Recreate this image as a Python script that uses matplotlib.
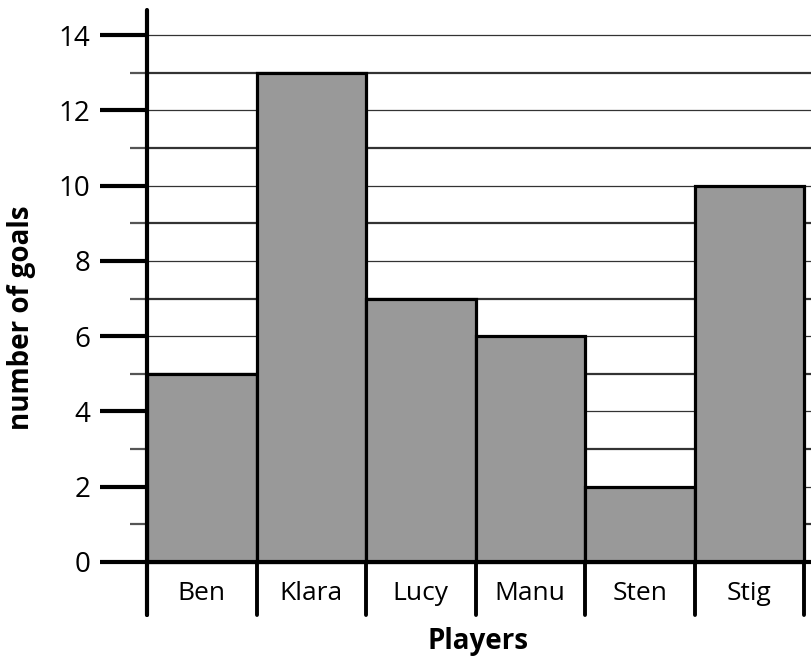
import matplotlib
matplotlib.use("Agg")
import matplotlib.pyplot as plt
import numpy as np

players = ["Ben", "Klara", "Lucy", "Manu", "Sten", "Stig"]
goals = [5, 13, 7, 6, 2, 10]
major_ticks = [0, 2, 4, 6, 8, 10, 12, 14]
minor_ticks = [1, 3, 5, 7, 9, 11, 13]

plt.rcParams['font.family'] = ['Open Sans', 'DejaVu Sans']

fig = plt.figure(figsize=(8.11, 6.6), dpi=100)
W, H = 811, 660
x0, x1 = 147, 811
y_top, y_bot = 10, 615
ax = fig.add_axes([x0 / W, (H - y_bot) / H, (x1 - x0) / W, (y_bot - y_top) / H])

unit = (562 - 35) / 14.0
ymin = -(y_bot - 562) / unit
ymax = (562 - y_top) / unit
bw_px = 109.5
xmax = -0.5 + (x1 - x0) / bw_px
ax.set_xlim(-0.5, xmax)
ax.set_ylim(ymin, ymax)

# gridlines
for v in major_ticks:
    if v > 0:
        ax.axhline(v, color="#333333", lw=0.9, zorder=1)
for v in minor_ticks:
    ax.axhline(v, color="#333333", lw=1.6, zorder=1)

x = np.arange(len(players))
ax.bar(x, goals, width=1.0, color="#999999", edgecolor="black", linewidth=2.3, zorder=3)

# baseline
ax.axhline(0, color="black", lw=3, zorder=4)

# category separators
for i in range(len(players) + 1):
    ax.plot([i - 0.5, i - 0.5], [0, ymin], color="black", lw=2.8,
            solid_capstyle="round", zorder=4, clip_on=False)

for s in ["top", "right", "bottom"]:
    ax.spines[s].set_visible(False)
ax.spines["left"].set_linewidth(3)
ax.spines["left"].set_capstyle("round")
ax.spines["left"].set_zorder(5)

ax.set_xticks([])
ax.set_yticks(major_ticks)
ax.set_yticks(minor_ticks, minor=True)
ax.tick_params(axis="y", which="major", length=34, width=3, color="black",
               pad=7, labelsize=20)
ax.tick_params(axis="y", which="minor", length=12, width=1.6, color="#555555")

for i, p in enumerate(players):
    ax.text(i, ymin / 2 - 0.12, p, ha="center", va="center", fontsize=19, zorder=6)

fig.text(478 / W, 1 - 641 / H, "Players", ha="center", va="center",
         fontsize=20, fontweight="bold")
fig.text(22 / W, 1 - 318 / H, "number of goals", ha="center", va="center",
         fontsize=20, fontweight="bold", rotation=90)

fig.savefig("out.png", dpi=100)
